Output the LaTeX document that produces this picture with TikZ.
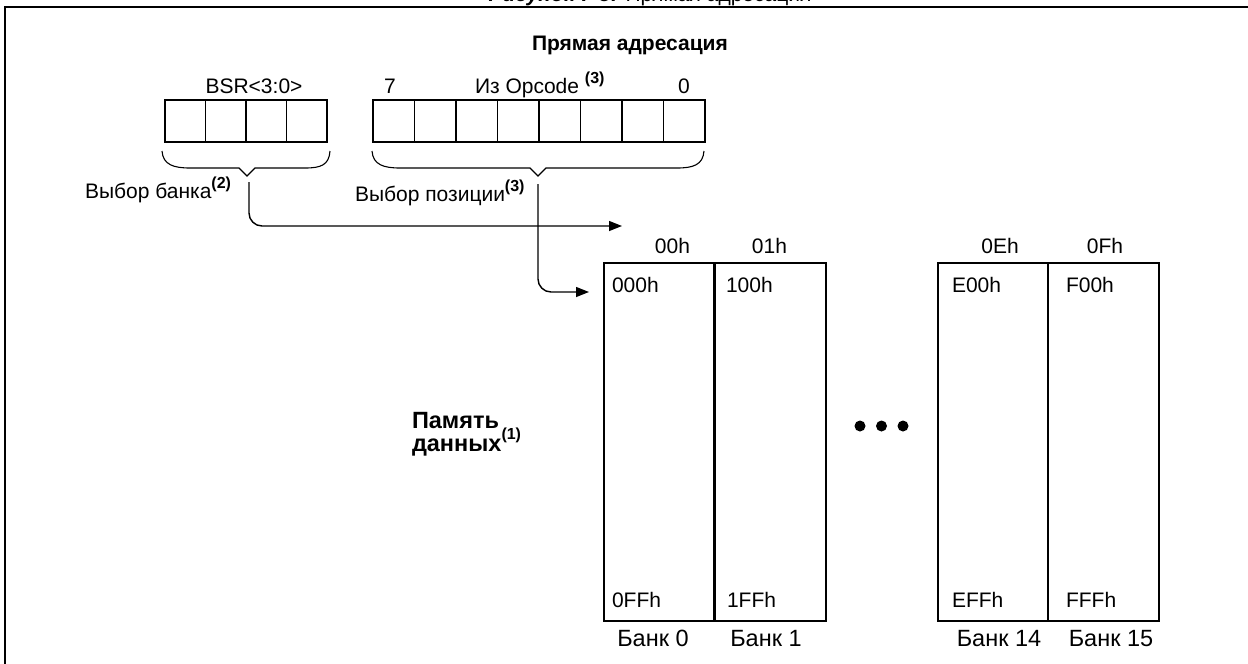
\documentclass[tikz,border=0pt]{standalone}
\usepackage{fontspec}
\setmainfont{Liberation Sans}
\usetikzlibrary{arrows.meta}
\newcommand\supnote[1]{\raisebox{0.5em}{\fontsize{16}{16}\selectfont\bfseries #1}}
\tikzset{
  txt/.style={font=\fontsize{21}{24}\selectfont, inner sep=0pt, outer sep=0pt},
  ltxt/.style={txt, font=\fontsize{23.5}{26}\selectfont},
  btxt/.style={txt, font=\fontsize{21}{24}\selectfont\bfseries},
  mtxt/.style={txt, font=\fontsize{23.5}{26}\selectfont\bfseries},
  regcell/.style={draw, line width=1.4pt, minimum height=42pt, inner sep=0pt, outer sep=0pt},
  bankbox/.style={draw, line width=1.5pt, minimum height=358pt, inner sep=0pt, outer sep=0pt},
  bracepath/.style={line width=1.1pt},
  conn/.style={line width=1.4pt, rounded corners=13pt, -{Triangle[length=13pt,width=10pt]}},
  frame/.style={line width=1.6pt}
}
\begin{document}
\begin{tikzpicture}[x=1pt,y=-1pt]
\useasboundingbox (0,0) rectangle (1248,664);
\clip (0,0) rectangle (1248,664);
\fill[white] (0,0) rectangle (1248,664);
% frame (clipped)
\draw[frame] (1270,7) -- (5,7) -- (5,690);
% figure caption, cut off at the top edge as in the reference
\node[txt, anchor=base] (caption) at (650,1) {\textbf{\textit{Рисунок 7-5:}} Прямая адресация};
% heading
\node[btxt, anchor=base] (head) at (630,50) {Прямая адресация};
% BSR register
\foreach \i in {0,...,3} {
  \node[regcell, minimum width=40.5pt] (b\i) at ({185.25+40.5*\i},121) {};
}
\node[txt, anchor=base] (bsrlbl) at (254,93.5) {BSR<3:0>};
% Opcode register
\foreach \i in {0,...,7} {
  \node[regcell, minimum width=41.5pt] (o\i) at ({393.75+41.5*\i},121) {};
}
\node[txt, anchor=base] (bit7) at (390,93.5) {7};
\node[txt, anchor=base] (bit0) at (684,93.5) {0};
\node[txt, anchor=base west] (opc) at (475,93.5) {Из Opcode \supnote{(3)}};
% braces
\draw[bracepath] (162,151) .. controls (163,165) and (174,168) .. (190,168) -- (239,168) -- (247,176) -- (255,168) -- (305,168) .. controls (321,168) and (329,165) .. (330,151);
\draw[bracepath] (372,151) .. controls (373,165) and (384,168) .. (400,168) -- (530,168) -- (538,176) -- (546,168) -- (677,168) .. controls (693,168) and (703,165) .. (704,151);
\node[txt, anchor=base west] (banksel) at (85,198.5) {Выбор банка\supnote{(2)}};
\node[txt, anchor=base west] (possel) at (355,201.5) {Выбор позиции\supnote{(3)}};
% banks
\node[bankbox, minimum width=110pt] (bank0) at (659,442) {};
\node[bankbox, minimum width=111pt] (bank1) at (770.5,442) {};
\node[bankbox, minimum width=110pt] (bank14) at (993,442) {};
\node[bankbox, minimum width=111pt] (bank15) at (1103.5,442) {};
% connectors
\coordinate (bsrtip) at (249,182);
\coordinate (bankend) at (622,226);
\coordinate (postip) at (538,184);
\coordinate (posend) at (589,292);
\draw[conn] (bsrtip) |- (bankend);
\draw[conn] (postip) |- (posend);
% bank labels
\node[txt, anchor=base] (h00) at (672.5,253.5) {00h};
\node[txt, anchor=base] (h01) at (769.5,253.5) {01h};
\node[txt, anchor=base] (h0E) at (1000,253.5) {0Eh};
\node[txt, anchor=base] (h0F) at (1105,253.5) {0Fh};
\node[txt, anchor=base west] (a000) at (612,292.5) {000h};
\node[txt, anchor=base west] (a100) at (726,292.5) {100h};
\node[txt, anchor=base west] (aE00) at (952,292.5) {E00h};
\node[txt, anchor=base west] (aF00) at (1066,292.5) {F00h};
\node[txt, anchor=base west] (a0FF) at (612,607.5) {0FFh};
\node[txt, anchor=base west] (a1FF) at (727,607.5) {1FFh};
\node[txt, anchor=base west] (aEFF) at (952,607.5) {EFFh};
\node[txt, anchor=base west] (aFFF) at (1066,607.5) {FFFh};
\node[ltxt, anchor=base] (n0) at (653,646) {Банк 0};
\node[ltxt, anchor=base] (n1) at (766,646) {Банк 1};
\node[ltxt, anchor=base] (n14) at (999,646) {Банк 14};
\node[ltxt, anchor=base] (n15) at (1111,646) {Банк 15};
% dots
\fill (860,426) circle (5.5pt) (881.5,426) circle (5.5pt) (903,426) circle (5.5pt);
% data memory label
\node[mtxt, anchor=base west] (mem1) at (412,428) {Память};
\node[mtxt, anchor=base west] (mem2) at (412,451.7) {данных\supnote{(1)}};
\end{tikzpicture}
\end{document}
